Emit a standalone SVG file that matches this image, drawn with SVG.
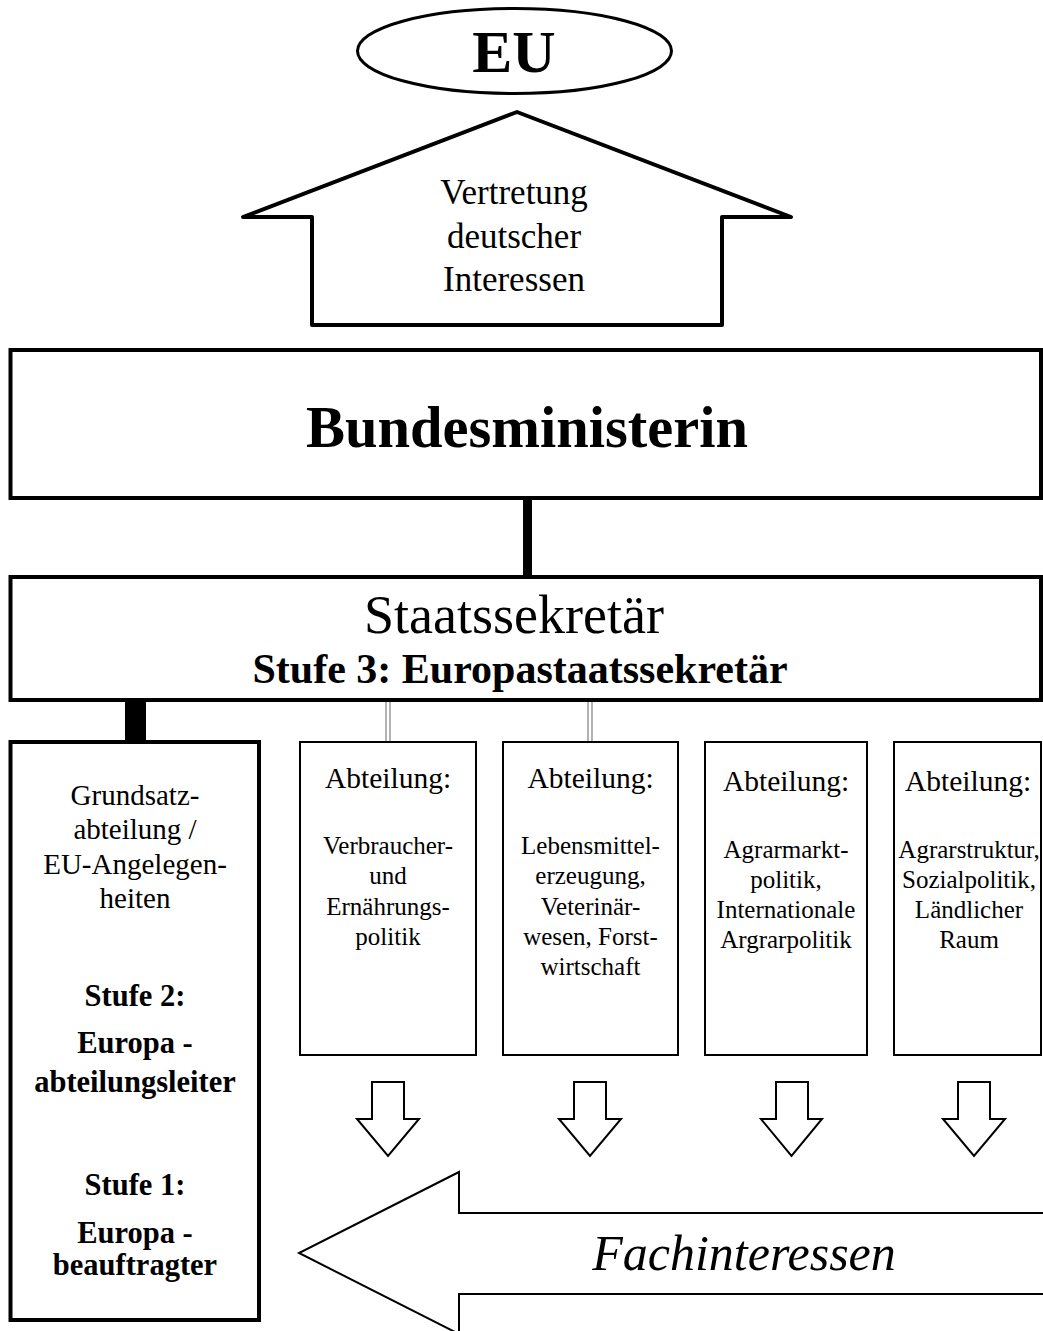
<svg xmlns="http://www.w3.org/2000/svg" width="1043" height="1331" viewBox="0 0 1043 1331">
<defs>
<style>
text{font-family:"Liberation Serif","Times New Roman",serif;fill:#000;text-anchor:middle}
.b{font-weight:bold}
.thick{fill:#fff;stroke:#000;stroke-width:4}
.thin{fill:#fff;stroke:#000;stroke-width:2}
.arr{fill:#fff;stroke:#000;stroke-width:2;stroke-linejoin:miter}
.dbl{stroke:#9a9a9a;stroke-width:1.5}
.abt{font-size:29.5px}
.desc{font-size:25px}
.lb{font-size:29px}
.lbb{font-size:30.5px;font-weight:bold}
</style>
</defs>
<rect width="1043" height="1331" fill="#fff"/>

<g id="connectors">
<rect x="523" y="498" width="9" height="79" fill="#000"/>
<rect x="125" y="700" width="21" height="42" fill="#000"/>
<line class="dbl" x1="386" y1="700" x2="386" y2="742"/>
<line class="dbl" x1="390" y1="700" x2="390" y2="742"/>
<line class="dbl" x1="588" y1="700" x2="588" y2="742"/>
<line class="dbl" x1="592" y1="700" x2="592" y2="742"/>
</g>

<g id="eu">
<ellipse cx="514.5" cy="51" rx="157" ry="42.5" fill="#fff" stroke="#000" stroke-width="3"/>
<text x="514" y="72" class="b" font-size="60">EU</text>
</g>

<g id="vertretung">
<polygon points="517,112 791,217 722,217 722,325 312,325 312,217 243,217" fill="#fff" stroke="#000" stroke-width="4" stroke-linejoin="round"/>
<text x="514" y="204" font-size="35">Vertretung</text>
<text x="514" y="248" font-size="35">deutscher</text>
<text x="514" y="291" font-size="35">Interessen</text>
</g>

<g id="bundesministerin">
<rect class="thick" x="10.5" y="350" width="1030.5" height="148"/>
<text x="527" y="447" class="b" font-size="58.5">Bundesministerin</text>
</g>

<g id="staatssekretaer">
<rect class="thick" x="10.5" y="577" width="1030.5" height="123"/>
<text x="514" y="633" font-size="54">Staatssekretär</text>
<text x="520" y="683" class="b" font-size="42">Stufe 3: Europastaatssekretär</text>
</g>

<g id="grundsatzabteilung">
<rect class="thick" x="10.5" y="742" width="248.5" height="578"/>
<text x="135" y="805" class="lb">Grundsatz-</text>
<text x="135" y="839" class="lb">abteilung /</text>
<text x="135" y="873.5" class="lb">EU-Angelegen-</text>
<text x="135" y="908" class="lb">heiten</text>
<text x="135" y="1006" class="lbb">Stufe 2:</text>
<text x="135" y="1053" class="lbb">Europa -</text>
<text x="135" y="1092" class="lbb">abteilungsleiter</text>
<text x="135" y="1195" class="lbb">Stufe 1:</text>
<text x="135" y="1243" class="lbb">Europa -</text>
<text x="135" y="1275" class="lbb">beauftragter</text>
</g>

<g id="abteilung1">
<rect class="thin" x="300" y="742" width="176" height="313"/>
<text x="388" y="788" class="abt">Abteilung:</text>
<text x="388" y="854" class="desc">Verbraucher-</text>
<text x="388" y="884.3" class="desc">und</text>
<text x="388" y="914.6" class="desc">Ernährungs-</text>
<text x="388" y="944.9" class="desc">politik</text>
</g>

<g id="abteilung2">
<rect class="thin" x="503" y="742" width="175" height="313"/>
<text x="590.5" y="788" class="abt">Abteilung:</text>
<text x="590.5" y="854" class="desc">Lebensmittel-</text>
<text x="590.5" y="884.3" class="desc">erzeugung,</text>
<text x="590.5" y="914.6" class="desc">Veterinär-</text>
<text x="590.5" y="944.9" class="desc">wesen, Forst-</text>
<text x="590.5" y="975.2" class="desc">wirtschaft</text>
</g>

<g id="abteilung3">
<rect class="thin" x="705" y="742" width="162" height="313"/>
<text x="786" y="791" class="abt">Abteilung:</text>
<text x="786" y="858" class="desc">Agrarmarkt-</text>
<text x="786" y="888" class="desc">politik,</text>
<text x="786" y="918" class="desc">Internationale</text>
<text x="786" y="948" class="desc">Argrarpolitik</text>
</g>

<g id="abteilung4">
<rect class="thin" x="894" y="742" width="147" height="313"/>
<text x="968" y="791" class="abt">Abteilung:</text>
<text x="969" y="858" class="desc">Agrarstruktur,</text>
<text x="969" y="888" class="desc">Sozialpolitik,</text>
<text x="969" y="918" class="desc">Ländlicher</text>
<text x="969" y="948" class="desc">Raum</text>
</g>

<g id="down-arrows">
<polygon class="arr" points="372,1082 404,1082 404,1119 419,1119 388,1156 357,1119 372,1119"/>
<polygon class="arr" points="574,1082 606,1082 606,1119 621,1119 590,1156 559,1119 574,1119"/>
<polygon class="arr" points="776,1082 808,1082 808,1119 822,1119 791.5,1156 761,1119 776,1119"/>
<polygon class="arr" points="958,1082 990,1082 990,1119 1005,1119 974,1156 943,1119 958,1119"/>
</g>

<g id="fachinteressen">
<polygon class="arr" points="1045,1213 459,1213 459,1172 299,1253 459,1334 459,1294 1045,1294"/>
<text x="744" y="1270" font-size="50" font-style="italic">Fachinteressen</text>
</g>
</svg>
